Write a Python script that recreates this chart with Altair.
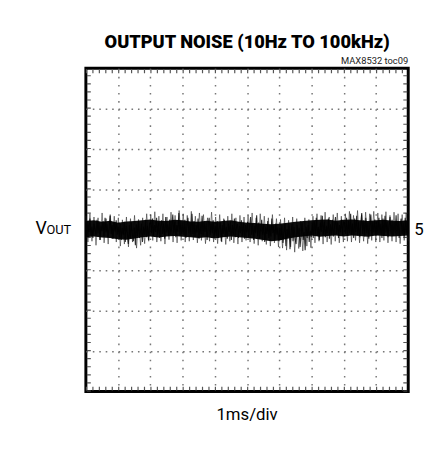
import altair as alt
import pandas as pd

# Noise trace (sweep 1), in 1/100 division units, 32 samples per division
noise = [
    12,-10,20,-5,28,-14,8,-20,15,2,-12,25,-8,18,-25,10,-3,22,-15,30,-6,14,-18,5,35,-10,12,-22,18,-4,24,-12,
    8,-18,15,-25,5,-12,20,-30,10,-8,-35,12,-20,18,-10,-28,6,-38,14,-15,22,-20,-5,16,-30,8,-12,25,-18,10,-25,15,
    20,-8,28,-15,12,-5,30,-12,18,-20,10,24,-10,16,-22,32,-6,14,-15,26,-12,8,38,-8,20,-18,12,-5,42,-14,22,-10,
    15,-12,25,-20,8,30,-8,18,-15,40,-10,22,-18,12,-6,28,-22,15,-10,35,-14,20,-5,18,-25,10,30,-12,16,-8,24,-18,
    10,-15,22,-20,5,18,-28,12,-10,25,-15,8,-22,16,-5,20,-25,12,-12,28,-18,6,15,-20,10,-8,24,-14,18,-22,12,-6,
    20,-18,8,32,-12,15,-25,10,-8,36,-15,18,-22,5,25,-12,14,-30,8,-10,22,-20,12,-16,28,-8,10,-24,16,-12,6,-28,
    5,-25,12,-32,-8,15,-40,2,-18,10,-48,-5,14,-28,8,-22,-35,12,-15,5,-42,-10,18,-25,-5,-50,8,-20,12,-30,-2,-18,
    15,-20,22,-10,30,-15,8,-25,18,-5,35,-12,20,-18,10,-8,28,-22,14,-12,25,-16,6,32,-10,18,-20,12,-6,26,-14,20,
    18,-10,30,-15,22,-8,40,-12,16,-20,28,-5,35,-14,20,-18,12,42,-10,24,-16,30,-8,18,-22,14,38,-12,20,-6,26,-15,
    22,-12,30,-8,16,-20,28,-14,35,-6,20,-18,12,32,-10,25,-15,18,-8,36,-12,22,-20,14,28,-10,18,-16,30,-8,20,-5,
]
# Faint persistence fringe (sweep 2), 1/100 division units, 16 samples per division
noise2 = [
    35,-30,40,-28,32,-38,30,-25,42,-32,28,-35,38,-22,34,-30,
    30,-40,25,-35,32,-42,28,-30,36,-45,26,-38,30,-34,40,-28,
    38,-26,45,-30,34,-28,40,-35,32,-24,44,-30,36,-32,48,-26,
    40,-30,36,-28,46,-25,34,-32,42,-26,38,-34,30,-28,44,-30,
    32,-34,38,-30,28,-36,34,-28,40,-32,30,-35,36,-30,32,-26,
    36,-30,42,-34,30,-38,40,-28,34,-36,30,-40,38,-32,28,-42,
    26,-45,30,-50,24,-42,32,-55,28,-46,22,-52,30,-40,26,-44,
    34,-32,40,-28,36,-35,44,-30,32,-36,38,-28,42,-32,34,-30,
    40,-28,46,-30,36,-26,48,-32,38,-28,44,-34,40,-26,46,-30,
    42,-30,38,-26,45,-32,36,-28,44,-30,40,-34,38,-26,42,-28,
]
# Dense (solid) core of the trace, upper / lower edge, every 1/4 division, 1/100 div units
core_hi = [22,24,20,23,18,21,22,24,26,23,22,25,24,21,20,23,20,22,24,20,
           18,17,15,14,15,18,20,22,24,25,26,23,25,26,24,22,24,25,23,22,24]
core_lo = [-18,-16,-19,-20,-23,-24,-21,-18,-16,-19,-16,-15,-17,-18,-20,-18,-21,-18,-16,-18,
           -20,-22,-25,-28,-26,-22,-18,-16,-14,-17,-15,-14,-16,-14,-15,-17,-14,-15,-16,-15,-14]
x_divs = 10
y_divs = 8
title_text = ["OUTPUT NOISE (10Hz TO 100kHz)"]
code_text = ["MAX8532 toc09"]
xlabel_text = ["1ms/div"]
v_text = ["V"]
sub_text = ["OUT"]
right_text = ["5"]

n = len(noise)
df = pd.DataFrame({"t": [x_divs * i / (n - 1) for i in range(n)],
                   "v": [a / 100 for a in noise]})
n2 = len(noise2)
df2 = pd.DataFrame({"t": [x_divs * i / (n2 - 1) for i in range(n2)],
                    "v": [a / 100 for a in noise2]})
m = len(core_hi)
dfc = pd.DataFrame({"t": [x_divs * i / (m - 1) for i in range(m)],
                    "hi": [a / 100 for a in core_hi],
                    "lo": [a / 100 for a in core_lo]})

W, H = 327, 328
xs = alt.Scale(domain=[0, x_divs], nice=False, zero=False)
ys = alt.Scale(domain=[-y_divs / 2, y_divs / 2], nice=False, zero=False)
FONT = "Roboto, Liberation Sans, sans-serif"

grid = alt.Chart(alt.Data(values=[{"a": 0}])).mark_point(opacity=0).encode(
    x=alt.X("a:Q", scale=xs, axis=alt.Axis(values=list(range(1, x_divs)), grid=True,
            gridDash=[1.6, 6.6], gridColor="#777", gridWidth=1.5, labels=False,
            ticks=False, domain=False, title=None)),
    y=alt.Y("a:Q", scale=ys, axis=alt.Axis(values=list(range(-3, 4)), grid=True,
            gridDash=[1.6, 4.94], gridColor="#777", gridWidth=1.5, labels=False,
            ticks=False, domain=False, title=None)),
)

edge = alt.Data(values=[{"a": 0}])
top_ticks = alt.Chart(edge).mark_rule(color="#555", strokeWidth=4, strokeDash=[1.2, 5.34]).encode(
    x=alt.datum(0, scale=xs), x2=alt.datum(x_divs), y=alt.datum(y_divs / 2, scale=ys), yOffset=alt.value(3))
bot_ticks = alt.Chart(edge).mark_rule(color="#555", strokeWidth=4, strokeDash=[1.2, 5.34]).encode(
    x=alt.datum(0, scale=xs), x2=alt.datum(x_divs), y=alt.datum(-y_divs / 2, scale=ys), yOffset=alt.value(-3))
left_ticks = alt.Chart(edge).mark_rule(color="#555", strokeWidth=4, strokeDash=[1.2, 7.0]).encode(
    y=alt.datum(-y_divs / 2, scale=ys), y2=alt.datum(y_divs / 2), x=alt.datum(0, scale=xs), xOffset=alt.value(3))
right_ticks = alt.Chart(edge).mark_rule(color="#555", strokeWidth=4, strokeDash=[1.2, 7.0]).encode(
    y=alt.datum(-y_divs / 2, scale=ys), y2=alt.datum(y_divs / 2), x=alt.datum(x_divs, scale=xs), xOffset=alt.value(-3))

fringe = alt.Chart(df2).mark_line(color="#222", strokeWidth=1, opacity=0.55).encode(
    x=alt.X("t:Q", scale=xs), y=alt.Y("v:Q", scale=ys))
core = alt.Chart(dfc).mark_area(color="black", opacity=0.95).encode(
    x=alt.X("t:Q", scale=xs), y=alt.Y("lo:Q", scale=ys), y2="hi:Q")
trace = alt.Chart(df).mark_line(color="black", strokeWidth=1.1, opacity=0.8).encode(
    x=alt.X("t:Q", scale=xs), y=alt.Y("v:Q", scale=ys))


def label(txt, x, y, size, align="center", weight="normal", font=FONT, color="black"):
    return alt.Chart(alt.Data(values=[{"s": s} for s in txt])).mark_text(
        align=align, baseline="alphabetic", fontSize=size, fontWeight=weight, font=font, color=color
    ).encode(text="s:N", x=alt.value(x), y=alt.value(y))


title = label(title_text, W / 2, -21, 18.5, weight=900)
code = label(code_text, W, -4, 9.5, align="right", color="#222")
xlab = label(xlabel_text, W / 2, 357, 17)
vlab = label(v_text, -51, 168, 18, align="left")
sublab = label(sub_text, -40, 168, 13, align="left")
rlab = label(right_text, 333, 169, 17, align="left")

chart = alt.layer(grid, top_ticks, bot_ticks, left_ticks, right_ticks, fringe, core, trace,
                  title, code, xlab, vlab, sublab, rlab).properties(
    width=W, height=H,
    autosize=alt.AutoSizeParams(type="none"),
    padding={"left": 79, "top": 58, "right": 16, "bottom": 48},
    background="white",
).configure_view(stroke="black", strokeWidth=3)

chart.save("out.html", embed_options={"renderer": "svg", "actions": False})
